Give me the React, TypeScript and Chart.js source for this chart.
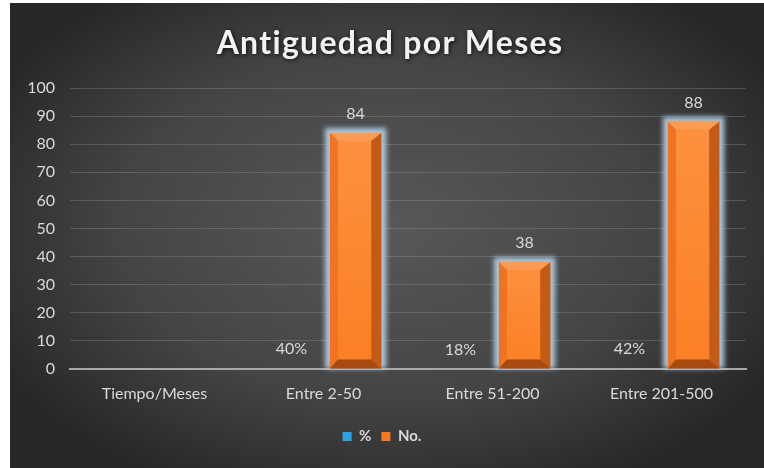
import React, { useEffect, useRef } from 'react';
import { Chart, registerables } from 'chart.js';
Chart.register(...registerables);

const categories = ['Tiempo/Meses', 'Entre 2-50', 'Entre 51-200', 'Entre 201-500'];
const pctValues: (number | null)[] = [null, 0.4, 0.18, 0.42];
const countValues: (number | null)[] = [null, 84, 38, 88];
const titleText = 'Antiguedad por Meses';
const seriesNames = ['%', 'No.'];
const seriesColors = ['#2aa4e3', '#f57a22'];
const yMin = 0;
const yMax = 100;
const yStep = 10;

const FONT = 'Lato, "Open Sans", sans-serif';
const TEXT = '#d9d9d9';

const bgPlugin = {
  id: 'bg',
  beforeDraw(chart: any) {
    const { ctx, width, height } = chart;
    ctx.save();
    ctx.fillStyle = '#272727';
    ctx.fillRect(0, 0, width, height);
    const cx = width * 0.5;
    const cy = height * 0.48;
    const sx = 1.55;
    ctx.translate(cx, cy);
    ctx.scale(sx, 1);
    const r = 290;
    const g = ctx.createRadialGradient(0, 0, 0, 0, 0, r);
    g.addColorStop(0, '#585858');
    g.addColorStop(0.6, '#444444');
    g.addColorStop(1, '#272727');
    ctx.fillStyle = g;
    ctx.fillRect(-cx / sx - 2, -cy - 2, width / sx + 4, height + 4);
    ctx.restore();
  },
};

const titlePlugin = {
  id: 'customTitle',
  afterDraw(chart: any) {
    const { ctx, width } = chart;
    ctx.save();
    ctx.font = `bold 32px ${FONT}`;
    (ctx as any).letterSpacing = '1.3px';
    ctx.textAlign = 'center';
    ctx.textBaseline = 'middle';
    ctx.shadowColor = 'rgba(0,0,0,0.8)';
    ctx.shadowBlur = 4;
    ctx.shadowOffsetX = 1;
    ctx.shadowOffsetY = 1;
    ctx.fillStyle = '#f2f2f2';
    ctx.fillText(titleText, width / 2 + 3, 41);
    ctx.restore();
  },
};

function barBox(el: any) {
  return el.getProps(['x', 'y', 'base', 'width'], true);
}

const barFxPlugin = {
  id: 'barFx',
  beforeDatasetDraw(chart: any, args: any) {
    if (args.index !== 1) return;
    const meta = chart.getDatasetMeta(1);
    const ctx = chart.ctx;
    ctx.save();
    ctx.filter = 'blur(2.5px)';
    ctx.fillStyle = 'rgba(178,208,230,0.92)';
    meta.data.forEach((el: any, i: number) => {
      if (countValues[i] == null) return;
      const { x, y, base, width } = barBox(el);
      ctx.fillRect(x - width / 2 - 5, y - 5, width + 10, base - y + 5);
    });
    ctx.restore();
  },
  afterDatasetDraw(chart: any, args: any) {
    if (args.index !== 1) return;
    const meta = chart.getDatasetMeta(1);
    const ctx = chart.ctx;
    ctx.save();
    meta.data.forEach((el: any, i: number) => {
      if (countValues[i] == null) return;
      const { x, y, base, width } = barBox(el);
      const l = x - width / 2;
      const r = x + width / 2;
      const t = y;
      const b = base;
      const bl = 8;
      const br = 10;
      const bt = 8;
      const bb = 9;
      const poly = (pts: number[][], c: any) => {
        ctx.beginPath();
        ctx.moveTo(pts[0][0], pts[0][1]);
        for (let k = 1; k < pts.length; k++) ctx.lineTo(pts[k][0], pts[k][1]);
        ctx.closePath();
        ctx.fillStyle = c;
        ctx.fill();
      };
      const fg = ctx.createLinearGradient(0, t, 0, b);
      fg.addColorStop(0, '#fd9140');
      fg.addColorStop(1, '#fb7f24');
      poly([[l + bl, t + bt], [r - br, t + bt], [r - br, b - bb], [l + bl, b - bb]], fg);
      poly([[l, t], [r, t], [r - br, t + bt], [l + bl, t + bt]], '#fb9c55');
      poly([[l, t], [l + bl, t + bt], [l + bl, b - bb], [l, b]], '#ef7322');
      poly([[r, t], [r, b], [r - br, b - bb], [r - br, t + bt]], '#c35a15');
      poly([[l, b], [l + bl, b - bb], [r - br, b - bb], [r, b]], '#a84b10');
    });
    ctx.restore();
  },
};

const labelPlugin = {
  id: 'valueLabels',
  afterDatasetsDraw(chart: any) {
    const ctx = chart.ctx;
    ctx.save();
    ctx.font = `16px ${FONT}`;
    ctx.fillStyle = TEXT;
    ctx.textAlign = 'center';
    ctx.textBaseline = 'bottom';
    chart.data.datasets.forEach((ds: any, di: number) => {
      const meta = chart.getDatasetMeta(di);
      meta.data.forEach((el: any, i: number) => {
        const v = ds.data[i];
        if (v == null) return;
        const { x, y } = barBox(el);
        const txt = di === 0 ? `${Math.round(v * 100)}%` : `${v}`;
        ctx.fillText(txt, x, y - (di === 0 ? 11 : 11));
      });
    });
    ctx.restore();
  },
};

export default function App() {
  const ref = useRef<HTMLCanvasElement | null>(null);
  useEffect(() => {
    if (!ref.current) return;
    const chart = new Chart(ref.current, {
      type: 'bar',
      data: {
        labels: categories,
        datasets: [
          {
            label: seriesNames[0],
            data: pctValues,
            backgroundColor: 'rgba(0,0,0,0)',
            borderWidth: 0,
            categoryPercentage: 0.76,
            barPercentage: 0.8,
          },
          {
            label: seriesNames[1],
            data: countValues,
            backgroundColor: seriesColors[1],
            borderWidth: 0,
            categoryPercentage: 0.76,
            barPercentage: 0.8,
          },
        ],
      } as any,
      options: {
        responsive: false,
        animation: false,
        events: [],
        layout: { padding: { left: 8, right: 18, top: 85, bottom: 14 } },
        plugins: {
          title: { display: false },
          tooltip: { enabled: false },
          legend: {
            display: true,
            position: 'bottom',
            labels: {
              color: TEXT,
              font: { family: FONT, size: 15, weight: 'bold' },
              boxWidth: 9,
              boxHeight: 9,
              padding: 10,
              generateLabels: (c: any) =>
                (Chart.defaults.plugins.legend.labels as any).generateLabels(c).map((l: any, i: number) => ({
                  ...l,
                  fillStyle: seriesColors[i],
                  strokeStyle: seriesColors[i],
                  lineWidth: 0,
                })),
            },
          },
        },
        scales: {
          x: {
            grid: { display: false, drawTicks: false },
            border: { display: true, color: '#a8a8a8', width: 2 },
            ticks: { color: TEXT, font: { family: FONT, size: 16 }, padding: 15 },
            afterFit: (s: any) => {
              s.height = 50;
            },
          },
          y: {
            min: yMin,
            max: yMax,
            ticks: { stepSize: yStep, color: TEXT, font: { family: FONT, size: 16 }, padding: 15 },
            grid: { color: 'rgba(200,200,200,0.22)', drawTicks: false, lineWidth: 1 },
            border: { display: false },
            afterFit: (s: any) => {
              s.width = 52;
            },
          },
        },
      } as any,
      plugins: [bgPlugin, barFxPlugin, labelPlugin, titlePlugin],
    });
    return () => chart.destroy();
  }, []);
  return (
    <div style={{ position: 'absolute', left: 10, top: 3, width: 754, height: 465 }}>
      <canvas ref={ref} width={754} height={465} style={{ display: 'block' }} />
    </div>
  );
}
